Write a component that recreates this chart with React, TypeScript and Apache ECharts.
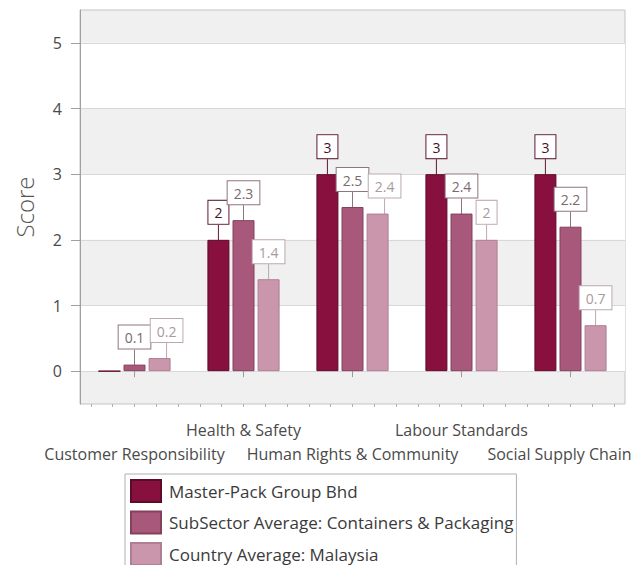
import React, { useEffect, useRef } from "react";
import * as echarts from "echarts";

const categories = [
  "Customer Responsibility",
  "Health & Safety",
  "Human Rights & Community",
  "Labour Standards",
  "Social Supply Chain",
];
const seriesNames = [
  "Master-Pack Group Bhd",
  "SubSector Average: Containers & Packaging",
  "Country Average: Malaysia",
];
const masterPack = [0, 2, 3, 3, 3];
const subSectorAvg = [0.1, 2.3, 2.5, 2.4, 2.2];
const countryAvg = [0.2, 1.4, 2.4, 2, 0.7];
const yTicks = [0, 1, 2, 3, 4, 5];

const FONT = "'Open Sans', 'Noto Sans', sans-serif";

const styles = [
  { fill: "#88103f", border: "#5e0a2a", labelColor: "#4a1024", labelBorder: "#5e1a33" },
  { fill: "#a8587a", border: "#85405e", labelColor: "#7a6a70", labelBorder: "#8f7580" },
  { fill: "#c996ab", border: "#b07e93", labelColor: "#a89aa0", labelBorder: "#bca8b2" },
];

export default function App() {
  const ref = useRef<HTMLDivElement>(null);
  useEffect(() => {
    if (!ref.current) return;
    const chart = echarts.init(ref.current, undefined, { renderer: "svg" });
    const allValues = [masterPack, subSectorAvg, countryAvg];
    const minorTicks = Array.from({ length: 25 }, (_, i) => i + 0.5);
    const series = allValues.map((vals, si) => ({
      name: seriesNames[si],
      type: "bar",
      xAxisIndex: 0,
      barWidth: 22,
      barGap: "14%",
      itemStyle: { color: styles[si].fill, borderColor: styles[si].border, borderWidth: 1 },
      label: {
        show: true,
        position: "top",
        distance: 0,
        fontFamily: FONT,
        fontSize: 14,
        lineHeight: 16,
        color: styles[si].labelColor,
        backgroundColor: "#ffffff",
        borderColor: styles[si].labelBorder,
        borderWidth: 1,
        padding: [4, 6, 3, 6],
      },
      labelLayout:
        si === 2
          ? (p: any) => {
              const i = p.dataIndex;
              const clash = Math.abs(subSectorAvg[i] - countryAvg[i]) < 0.35;
              return { dy: -16, dx: clash ? 7 : 0 };
            }
          : { dy: -16 },
      labelLine: { show: true, lineStyle: { color: styles[si].labelBorder, width: 1 } },
      data: vals.map((v) =>
        v === 0 ? { value: v, label: { show: false }, labelLine: { show: false } } : v
      ),
    }));
    chart.setOption({
      animation: false,
      backgroundColor: "#ffffff",
      textStyle: { fontFamily: FONT },
      grid: {
        left: 80,
        right: 10,
        top: 10,
        bottom: 161,
        outerBoundsMode: "none",
        containLabel: false,
        show: true,
        backgroundColor: "#f0f0f0",
        borderColor: "#c4c4c4",
        borderWidth: 1,
      },
      legend: {
        data: seriesNames,
        orient: "vertical",
        left: 125,
        top: 474,
        height: 140,
        itemWidth: 30,
        itemHeight: 22,
        itemGap: 7.5,
        padding: [5, 3, 5, 5],
        borderColor: "#b0b0b0",
        borderWidth: 1,
        icon: "rect",
        textStyle: { fontFamily: FONT, fontSize: 17, color: "#3a3a3a", padding: [0, 0, 0, 3] },
      },
      xAxis: [
        {
          type: "category",
          data: categories.map((c, i) =>
            i === categories.length - 1 ? { value: c, textStyle: { padding: [0, 22, 0, 0] } } : c
          ),
          axisLine: { show: false },
          axisTick: { show: true, alignWithLabel: true, length: 6, lineStyle: { color: "#9a9a9a" } },
          axisLabel: {
            interval: 0,
            margin: 14,
            fontFamily: FONT,
            fontSize: 16,
            lineHeight: 24,
            color: "#4a4a4a",
            formatter: (val: string, idx: number) => (idx % 2 === 0 ? "\n" + val : val),
          },
          splitLine: { show: false },
        },
        {
          type: "value",
          position: "bottom",
          min: 0,
          max: 25,
          axisLine: { show: false },
          axisLabel: { show: false },
          splitLine: { show: false },
          axisTick: { show: true, length: 3, customValues: minorTicks, lineStyle: { color: "#b0b0b0" } },
        },
      ],
      yAxis: {
        type: "value",
        min: -0.5,
        max: 5.5,
        name: "Score",
        nameLocation: "middle",
        nameGap: 44,
        nameTextStyle: { fontFamily: FONT, fontSize: 24, fontWeight: 300, color: "#555555" },
        axisLine: { show: true, lineStyle: { color: "#a0a0a0" } },
        axisTick: { show: true, length: 9, customValues: yTicks, lineStyle: { color: "#a0a0a0" } },
        axisLabel: { customValues: yTicks, fontFamily: FONT, fontSize: 16, color: "#4a4a4a", margin: 18 },
        splitLine: { show: true, lineStyle: { color: "#d8d8d8" } },
        splitArea: { show: true, areaStyle: { color: ["#ffffff", "#f0f0f0"] } },
      },
      series,
    });
    return () => chart.dispose();
  }, []);
  return (
    <div
      ref={ref}
      style={{ position: "fixed", left: 0, top: 0, width: 635, height: 565, background: "#fff" }}
    />
  );
}
